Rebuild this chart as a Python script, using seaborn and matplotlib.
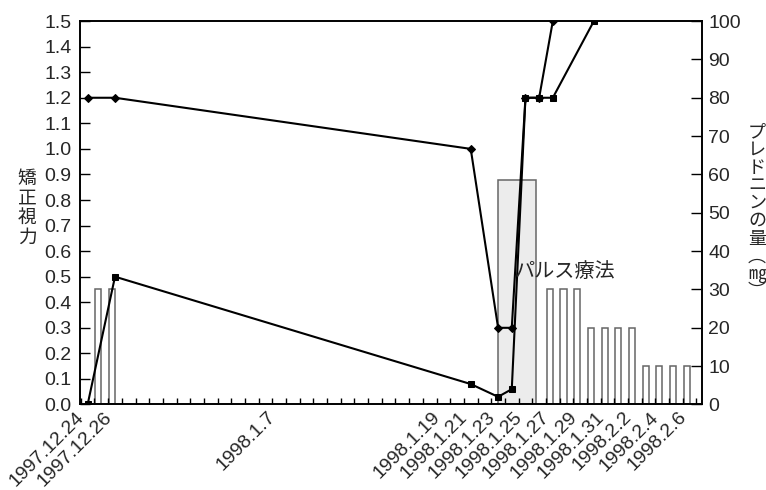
import numpy as np
import pandas as pd
import seaborn as sns
import matplotlib
matplotlib.use('Agg')
import matplotlib.pyplot as plt

# Day 0 of the chart
start = pd.Timestamp('1997-12-24')

def to_day(dates):
    return [(pd.Timestamp(d) - start).days for d in dates]

# Corrected visual acuity, diamond series
va1_dates = ['1997-12-24', '1997-12-26', '1998-01-21', '1998-01-23', '1998-01-24',
             '1998-01-25', '1998-01-26', '1998-01-27']
va1_values = [1.2, 1.2, 1.0, 0.3, 0.3, 1.2, 1.2, 1.5]

# Corrected visual acuity, square series
va2_dates = ['1997-12-24', '1997-12-26', '1998-01-21', '1998-01-23', '1998-01-24',
             '1998-01-25', '1998-01-26', '1998-01-27', '1998-01-30']
va2_values = [0.0, 0.5, 0.08, 0.03, 0.06, 1.2, 1.2, 1.2, 1.5]

# Prednisolone dose (mg)
dose_dates = ['1997-12-25', '1997-12-26',
              '1998-01-27', '1998-01-28', '1998-01-29', '1998-01-30', '1998-01-31',
              '1998-02-01', '1998-02-02', '1998-02-03', '1998-02-04', '1998-02-05',
              '1998-02-06']
dose_values = [30, 30, 30, 30, 30, 20, 20, 20, 20, 10, 10, 10, 10]

# Pulse therapy block
pulse_date = '1998-01-23'
pulse_value = 58.5
pulse_label = 'パルス療法'

tick_labels = ['1997.12.24', '1997.12.26', '1998.1.7', '1998.1.19', '1998.1.21',
               '1998.1.23', '1998.1.25', '1998.1.27', '1998.1.29', '1998.1.31',
               '1998.2.2', '1998.2.4', '1998.2.6']
tick_days = [(pd.to_datetime(t, format='%Y.%m.%d') - start).days for t in tick_labels]

sns.set_style('ticks')
plt.rcParams['font.family'] = ['Liberation Sans', 'Noto Sans CJK JP']
plt.rcParams['axes.edgecolor'] = 'black'
plt.rcParams['axes.linewidth'] = 1.2

fig, ax = plt.subplots(figsize=(7.66, 4.9), dpi=100)
fig.subplots_adjust(left=0.1044, right=0.9164, bottom=0.1745, top=0.957)
ax2 = ax.twinx()
ax.set_zorder(ax2.get_zorder() + 1)
ax.patch.set_visible(False)

# bars on the dose axis, right edge on the day
ax2.bar(to_day(dose_dates), dose_values, width=-0.44, align='edge',
        color='white', edgecolor='#666666', linewidth=1.1)
ax2.bar(to_day([pulse_date]), [pulse_value], width=2.8, align='edge',
        color='#ececec', edgecolor='#666666', linewidth=1.1)

sns.lineplot(x=to_day(va1_dates), y=va1_values, ax=ax, estimator=None,
             color='black', linewidth=1.5, marker='D', markersize=4.5,
             markeredgecolor='black')
sns.lineplot(x=to_day(va2_dates), y=va2_values, ax=ax, estimator=None,
             color='black', linewidth=1.5, marker='s', markersize=4.5,
             markeredgecolor='black')

ax.text(31.25, 0.52, pulse_label, fontsize=14.5, family='Noto Sans CJK JP',
        ha='left', va='center')

ax.set_xlim(-0.56, 44.9)
ax.set_ylim(0, 1.5)
ax2.set_ylim(0, 100)

ax.set_xticks(tick_days, tick_labels, rotation=45, ha='right')
ax.set_xticks(np.arange(-0.5, 45, 1), minor=True)
ax.tick_params(axis='x', which='major', length=0, pad=3, labelsize=14)
ax.tick_params(axis='x', which='minor', direction='in', length=4, width=1, color='black')

yt = np.round(np.arange(0, 1.51, 0.1), 1)
ax.set_yticks(yt, [f'{v:.1f}' for v in yt])
ax.tick_params(axis='y', direction='in', length=7, width=1, pad=6, labelsize=14, color='black')
ax2.set_yticks(range(0, 101, 10))
ax2.tick_params(axis='y', direction='in', length=8, width=1, pad=4.5, labelsize=14, color='black')

ax.set_xlabel('')
ax.set_ylabel('')
ax2.set_ylabel('')
for s in ax.spines.values():
    s.set_visible(True)

fig.text(27 / 766, 1 - 208 / 490, '\n'.join('矯正視力'), ha='center', va='center',
         fontsize=13.5, linespacing=0.9, family='Noto Sans CJK JP')
fig.text(757 / 766, 1 - 212 / 490, '\n'.join('プレドニンの量︵㎎︶'), ha='center', va='center',
         fontsize=13, linespacing=0.98, family='Noto Sans CJK JP')

fig.savefig('out.png', dpi=100)
